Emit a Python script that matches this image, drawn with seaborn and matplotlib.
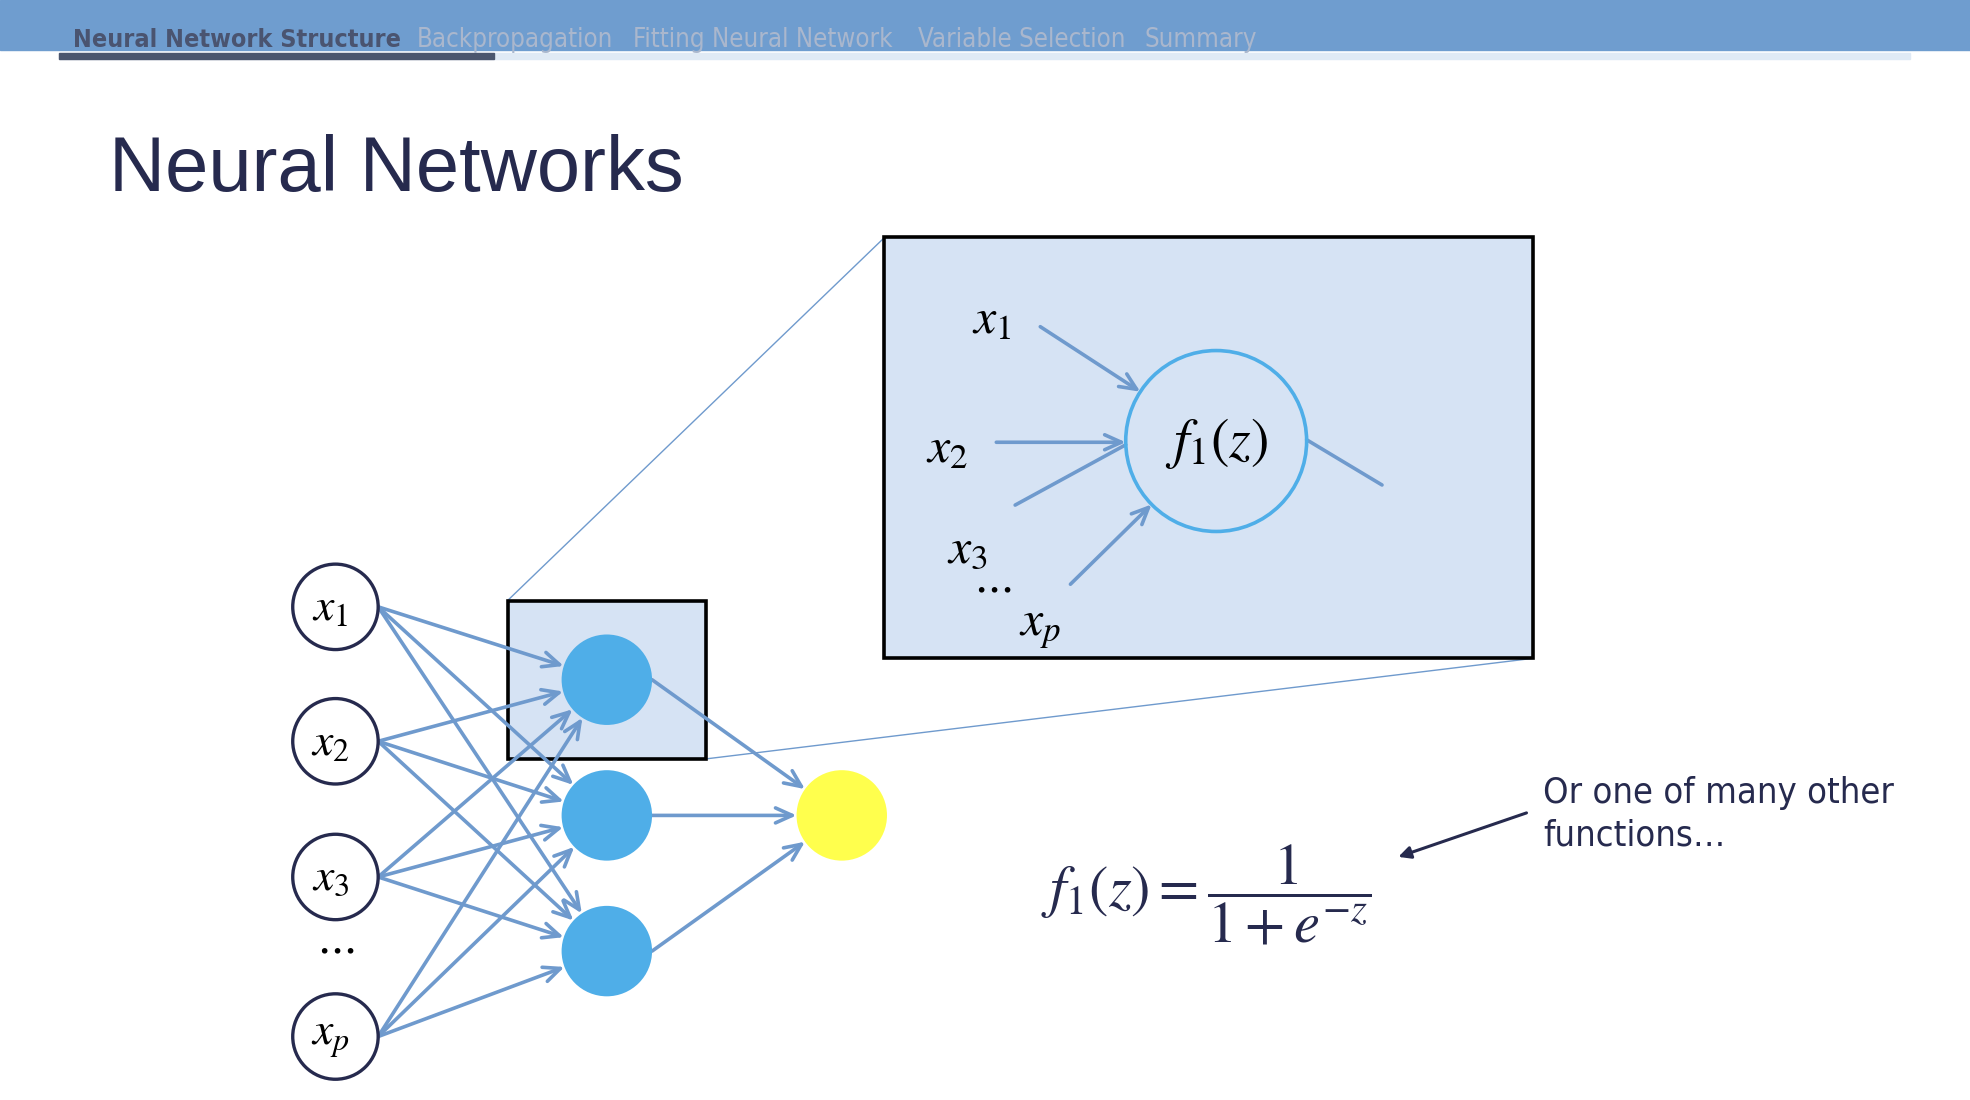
import numpy as np
import pandas as pd
import matplotlib
matplotlib.use("Agg")
import matplotlib.pyplot as plt
from matplotlib.patches import Rectangle, Circle
import seaborn as sns

# slide sections in the top bar
tabs = ["Neural Network Structure", "Backpropagation", "Fitting Neural Network",
        "Variable Selection", "Summary"]
tab_x = [58, 332, 504, 731, 911]

# network nodes (slide pixel coordinates)
input_labels = [r"$x_1$", r"$x_2$", r"$x_3$", r"$x_p$"]
input_x = [267, 267, 267, 267]
input_y = [483, 590, 698, 825]
hidden_x = [483, 483, 483]
hidden_y = [541, 649, 757]
output_x = [670]
output_y = [649]

# zoomed neuron inputs
zoom_labels = [r"$x_1$", r"$x_2$", r"$x_3$", r"$x_p$"]
zoom_lab_x = [789, 754, 770, 828]
zoom_lab_y = [255, 358, 437, 500]

NAVY = "#262a4e"
ARROW = "#6f9acd"
NODE = "#4faee8"
BOX = "#d6e3f4"
NARROW = ["Liberation Sans Narrow", "DejaVu Sans"]

W, H = 1568, 875.5
R_IN, R_HID = 34, 36


def edge_point(x0, y0, x1, y1, r):
    d = np.hypot(x1 - x0, y1 - y0)
    return x1 - (x1 - x0) / d * r, y1 - (y1 - y0) / d * r


def arrow(ax, start, end, head=True, lw=2.6, color=ARROW):
    style = "->,head_length=1.0,head_width=0.45" if head else "-"
    ax.annotate("", xy=end, xytext=start,
                arrowprops=dict(arrowstyle=style, color=color, lw=lw,
                                shrinkA=0, shrinkB=0))


def main():
    sns.set_theme(style="white")
    plt.rcParams["font.family"] = ["Liberation Sans", "DejaVu Sans"]
    plt.rcParams["mathtext.fontset"] = "stix"

    fig = plt.figure(figsize=(19.7, 11), dpi=100)
    ax = fig.add_axes([0, 0, 1, 1])

    # header bar
    ax.add_patch(Rectangle((0, 0), W, 40, color="#6f9dcf", zorder=1))
    ax.add_patch(Rectangle((47, 42), 1473, 5, color="#e0eaf5", zorder=1))
    ax.add_patch(Rectangle((47, 42), 346, 5, color="#4b566e", zorder=2))
    for i, (t, x) in enumerate(zip(tabs, tab_x)):
        ax.text(x, 37, t, fontsize=18 if i == 0 else 18.5, ha="left",
                va="baseline", family=NARROW, stretch="condensed",
                fontweight="bold" if i == 0 else "normal",
                color="#4a5470" if i == 0 else "#aab7cd", zorder=3)

    ax.text(87, 152, "Neural Networks", fontsize=56, color=NAVY,
            ha="left", va="baseline")

    # zoom boxes and connecting lines
    ax.plot([404, 704], [478, 189], color=ARROW, lw=1, zorder=1)
    ax.plot([562, 1220], [604, 524], color=ARROW, lw=1, zorder=1)
    ax.add_patch(Rectangle((404, 478), 158, 126, facecolor=BOX,
                           edgecolor="black", lw=2.6, zorder=2))
    ax.add_patch(Rectangle((704, 189), 516, 335, facecolor=BOX,
                           edgecolor="black", lw=2.6, zorder=2))

    # input nodes
    for x, y, lab in zip(input_x, input_y, input_labels):
        ax.add_patch(Circle((x, y), R_IN, facecolor="white",
                            edgecolor=NAVY, lw=2.4, zorder=4))
        ax.text(x - 4, y + 1, lab, fontsize=33, ha="center", va="center",
                color="black", zorder=5)
    ax.text(267, 755, r"$\cdots$", fontsize=32, ha="center", va="center",
            color="black")

    # hidden and output nodes
    nodes = pd.DataFrame({
        "x": hidden_x + output_x,
        "y": hidden_y + output_y,
        "kind": ["hidden"] * len(hidden_x) + ["output"] * len(output_x),
    })
    size = (2 * R_HID * (1970 / W) * 0.72) ** 2
    sns.scatterplot(data=nodes, x="x", y="y", hue="kind",
                    palette={"hidden": NODE, "output": "#ffff4d"},
                    s=size, linewidth=0, legend=False, ax=ax, zorder=4)
    ax.set_xlim(0, W)
    ax.set_ylim(H, 0)
    ax.set_aspect("equal")
    ax.axis("off")

    # connections
    for xi, yi in zip(input_x, input_y):
        for xh, yh in zip(hidden_x, hidden_y):
            end = edge_point(xi + R_IN, yi, xh, yh, R_HID)
            arrow(ax, (xi + R_IN, yi), end)
    for xh, yh in zip(hidden_x, hidden_y):
        for xo, yo in zip(output_x, output_y):
            end = edge_point(xh + R_HID, yh, xo, yo, R_HID)
            arrow(ax, (xh + R_HID, yh), end)

    # zoomed neuron
    cx, cy, cr = 968, 351, 72
    ax.add_patch(Circle((cx, cy), cr, facecolor="none", edgecolor=NODE,
                        lw=2.6, zorder=4))
    ax.text(cx, cy + 2, r"$f_1(z)$", fontsize=40, ha="center", va="center",
            color="black", zorder=5)
    for x, y, lab in zip(zoom_lab_x, zoom_lab_y, zoom_labels):
        ax.text(x, y, lab, fontsize=36, ha="center", va="center",
                color="black", zorder=5)
    ax.text(790, 468, r"$\cdots$", fontsize=32, ha="center", va="center",
            color="black", zorder=5)
    arrow(ax, (828, 260), edge_point(828, 260, cx, cy, cr))
    arrow(ax, (793, 352), (cx - cr, 352))
    arrow(ax, (808, 402), (cx - cr, 354), head=False)
    arrow(ax, (852, 465), edge_point(852, 465, cx, cy, cr))
    arrow(ax, (1040, 350), (1100, 386), head=False)

    # activation formula
    ax.text(960, 712, r"$f_1(z) = \dfrac{1}{1 + e^{-z}}$", fontsize=42,
            ha="center", va="center", color=NAVY)
    ax.text(1228, 631, "Or one of many other", fontsize=26,
            ha="left", va="center", color=NAVY, family=NARROW,
            stretch="condensed")
    ax.text(1228, 665, "functions\u2026", fontsize=26,
            ha="left", va="center", color=NAVY, family=NARROW,
            stretch="condensed")
    ax.annotate("", xy=(1113, 682), xytext=(1215, 647),
                arrowprops=dict(arrowstyle="-|>,head_length=0.6,head_width=0.3",
                                color=NAVY, lw=2.2, shrinkA=0, shrinkB=0))

    fig.savefig("out.png", dpi=100)


if __name__ == "__main__":
    main()
